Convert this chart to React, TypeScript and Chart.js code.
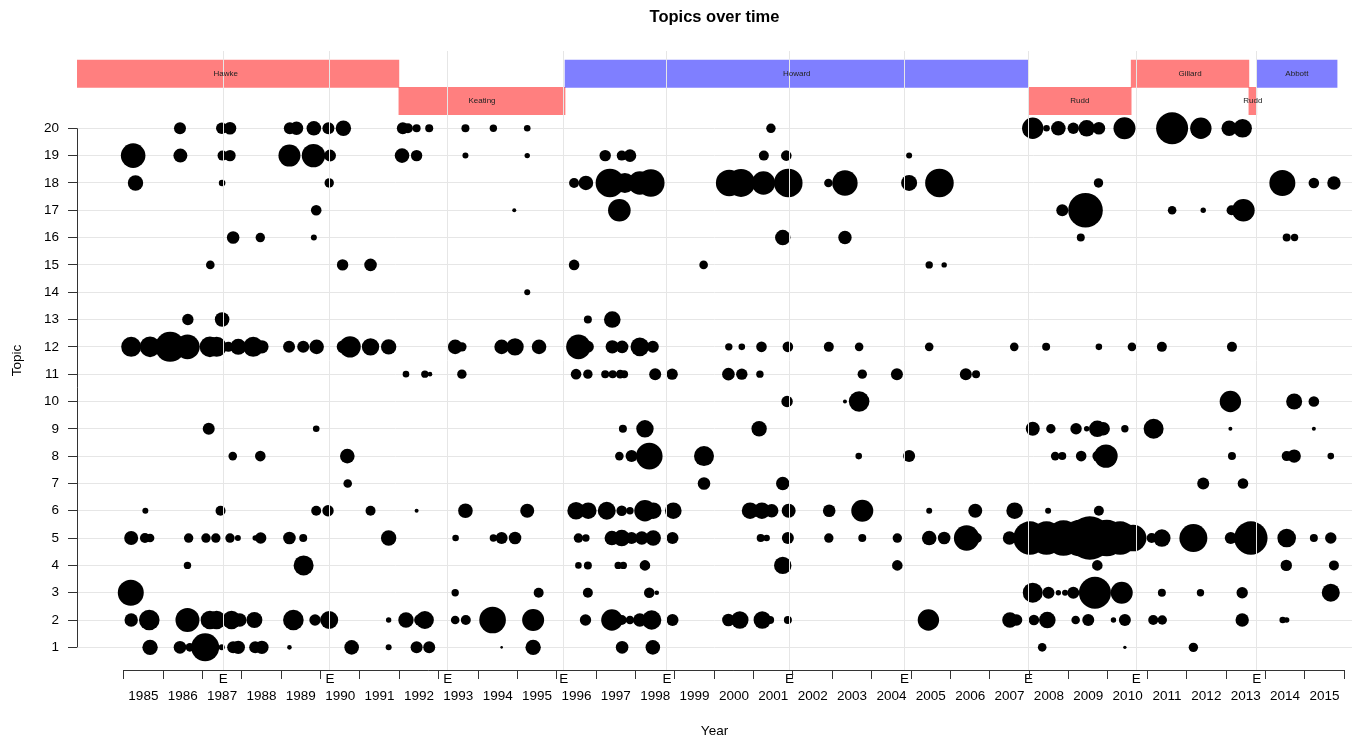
import React, { useEffect, useRef } from 'react';
import { Chart, registerables } from 'chart.js';

Chart.register(...registerables);

const FONT = "'Liberation Sans', Arial, Helvetica, sans-serif";
const TITLE = 'Topics over time';
const X_TITLE = 'Year';
const Y_TITLE = 'Topic';

const X_MIN = 1983.814;
const X_MAX = 2016.199;
const Y_MIN = 0.17;
const Y_MAX = 22.83;

const YEARS = [1985, 1986, 1987, 1988, 1989, 1990, 1991, 1992, 1993, 1994, 1995, 1996, 1997, 1998, 1999, 2000,
  2001, 2002, 2003, 2004, 2005, 2006, 2007, 2008, 2009, 2010, 2011, 2012, 2013, 2014, 2015];
const ELECTIONS = [1987.53, 1990.24, 1993.23, 1996.18, 1998.80, 2001.91, 2004.83, 2007.98, 2010.72, 2013.78];
const TOPICS = [1, 2, 3, 4, 5, 6, 7, 8, 9, 10, 11, 12, 13, 14, 15, 16, 17, 18, 19, 20];

const PM_NAMES = ['Hawke', 'Keating', 'Howard', 'Rudd', 'Gillard', 'Rudd', 'Abbott'];
const PM_START = [1983.19, 1991.99, 1996.21, 2007.98, 2010.59, 2013.58, 2013.78];
const PM_END = [1991.99, 1996.21, 2007.98, 2010.59, 2013.58, 2013.78, 2015.82];
const PM_PARTY = ['Labor', 'Labor', 'Liberal', 'Labor', 'Labor', 'Labor', 'Liberal'];
const PM_ROW = [22, 21, 22, 21, 22, 21, 22];

// [year, weight]
const topic20 = [[1986.43, 6], [1987.49, 5.7], [1987.70, 6.3], [1989.22, 6], [1989.39, 6.7], [1989.83, 7.3], [1990.20, 6], [1990.58, 7.7], [1992.09, 6], [1992.22, 5], [1992.44, 4], [1992.76, 4], [1993.68, 4], [1994.39, 3.7], [1995.25, 3.3], [2001.44, 4.7], [2008.09, 10.7], [2008.44, 3.3], [2008.74, 7.3], [2009.12, 5.7], [2009.46, 8.3], [2009.77, 6.3], [2010.42, 11], [2011.63, 16], [2012.36, 10.7], [2013.08, 7.7], [2013.42, 9.3]];
const topic19 = [[1985.24, 12.3], [1986.44, 7], [1987.51, 5], [1987.70, 5.7], [1989.21, 11], [1989.82, 11.7], [1990.24, 6], [1992.07, 7.3], [1992.44, 5.7], [1993.68, 3], [1995.25, 2.7], [1997.23, 5.7], [1997.65, 5], [1997.86, 6.3], [2001.26, 5], [2001.83, 5.3], [2004.95, 3]];
const topic18 = [[1985.30, 7.7], [1987.50, 3.3], [1990.22, 4.7], [1996.44, 5], [1996.74, 7.3], [1997.35, 14.3], [1997.73, 10], [1998.11, 11.7], [1998.39, 13.7], [2000.38, 13.3], [2000.68, 14], [2001.25, 11.7], [2001.88, 14.3], [2002.90, 4.3], [2003.32, 12.7], [2004.95, 8], [2005.72, 14.3], [2009.76, 4.7], [2014.43, 13], [2015.23, 5.3], [2015.74, 6.7]];
const topic17 = [[1989.89, 5.3], [1994.92, 2], [1997.59, 11.3], [2008.84, 6], [2009.43, 17.3], [2011.63, 4.3], [2012.42, 2.7], [2013.14, 5], [2013.44, 11.3]];
const topic16 = [[1987.78, 6.3], [1988.47, 4.7], [1989.83, 3], [2001.74, 7.7], [2003.32, 6.7], [2009.31, 4], [2014.54, 4], [2014.74, 3.7]];
const topic15 = [[1987.20, 4.3], [1990.56, 5.7], [1991.27, 6.3], [1996.44, 5.3], [1999.73, 4.3], [2005.46, 3.7], [2005.84, 2.7]];
const topic14 = [[1995.25, 3]];
const topic13 = [[1986.63, 5.7], [1987.50, 7.3], [1996.79, 4], [1997.41, 8.3]];
const topic12 = [[1985.19, 10], [1985.67, 10.3], [1986.18, 15], [1986.62, 12.3], [1987.19, 10.3], [1987.36, 10], [1987.66, 5], [1987.91, 8], [1988.29, 10], [1988.51, 6.7], [1989.20, 6], [1989.56, 6], [1989.90, 7.3], [1990.58, 6.7], [1990.75, 10.7], [1991.27, 8.7], [1991.73, 7.7], [1993.42, 7.3], [1993.59, 4.7], [1994.60, 7.3], [1994.94, 8.7], [1995.55, 7.3], [1996.55, 12.3], [1996.79, 6], [1997.41, 6.7], [1997.66, 6.3], [1998.11, 9.3], [1998.44, 6], [2000.37, 3.7], [2000.70, 3.3], [2001.20, 5.3], [2001.87, 5.3], [2002.91, 5], [2003.68, 4.3], [2005.46, 4.3], [2007.62, 4.3], [2008.43, 4], [2009.77, 3.3], [2010.61, 4.3], [2011.37, 5], [2013.15, 5]];
const topic11 = [[1992.17, 3.3], [1992.65, 3.7], [1992.78, 2.3], [1993.59, 4.7], [1996.49, 5.3], [1996.79, 4.7], [1997.23, 4], [1997.42, 4], [1997.61, 4.3], [1997.71, 4], [1998.50, 6], [1998.93, 5.7], [2000.36, 6.3], [2000.70, 5.7], [2001.16, 3.7], [2003.76, 4.7], [2004.64, 6], [2006.39, 6], [2006.65, 4]];
const topic10 = [[2001.85, 5.7], [2003.32, 2], [2003.68, 10.3], [2013.11, 10.7], [2014.73, 8], [2015.23, 5.3]];
const topic9 = [[1987.16, 6], [1989.89, 3.3], [1997.68, 4], [1998.24, 8.7], [2001.14, 7.7], [2008.09, 7], [2008.55, 4.7], [2009.19, 5.7], [2009.46, 2.7], [2009.73, 8.3], [2009.88, 6.7], [2010.43, 3.7], [2011.16, 10], [2013.11, 2], [2015.23, 2]];
const topic8 = [[1987.77, 4.3], [1988.47, 5.3], [1990.68, 7.3], [1997.59, 4.3], [1997.90, 6], [1998.35, 13.3], [1999.74, 10], [2003.67, 3.3], [2004.95, 6], [2008.66, 4.3], [2008.84, 4], [2009.32, 5.3], [2009.75, 5.7], [2009.95, 11.7], [2013.15, 4], [2014.54, 5], [2014.73, 6.7], [2015.66, 3.3]];
const topic7 = [[1990.69, 4.3], [1999.74, 6.3], [2001.74, 6.7], [2012.42, 6], [2013.43, 5.3]];
const topic6 = [[1985.55, 3], [1987.46, 5], [1989.89, 5], [1990.19, 5.7], [1991.27, 5], [1992.44, 2], [1993.68, 7.3], [1995.25, 7], [1996.49, 8.7], [1996.80, 8.3], [1997.27, 9], [1997.65, 5.3], [1997.86, 3.7], [1998.24, 10.7], [1998.45, 8.3], [1998.96, 8.3], [2000.91, 8.3], [2001.21, 8.3], [2001.46, 6.7], [2001.89, 7], [2002.92, 6.3], [2003.76, 11], [2005.46, 3], [2006.63, 7], [2007.63, 8.3], [2008.48, 3], [2009.77, 5]];
const topic5 = [[1985.19, 7], [1985.54, 5], [1985.67, 4.3], [1986.65, 4.7], [1987.09, 4.7], [1987.34, 4.7], [1987.70, 4.7], [1987.90, 3], [1988.34, 2.7], [1988.48, 5.7], [1989.21, 6.3], [1989.56, 4], [1991.73, 7.7], [1993.43, 3.3], [1994.39, 3.7], [1994.60, 6], [1994.94, 6.3], [1996.55, 4.7], [1996.74, 3.7], [1997.40, 7.3], [1997.65, 8.3], [1997.90, 6], [1998.16, 6.7], [1998.45, 7.7], [1998.94, 6], [2001.18, 4], [2001.33, 3.3], [2001.87, 6], [2002.91, 4.7], [2003.76, 4], [2004.65, 4.7], [2005.46, 7.3], [2005.84, 6.3], [2006.41, 12.7], [2006.67, 5], [2007.50, 6.7], [2008.02, 16.7], [2008.44, 16.7], [2008.87, 17.7], [2009.29, 18.3], [2009.54, 21.7], [2009.97, 18.3], [2010.31, 16.7], [2010.64, 13.3], [2011.11, 5], [2011.37, 8.7], [2012.17, 14], [2013.12, 6], [2013.63, 16.7], [2014.54, 9.3], [2015.23, 4], [2015.66, 5.7]];
const topic4 = [[1986.62, 3.7], [1989.57, 10], [1996.55, 3.3], [1996.79, 4], [1997.56, 3.7], [1997.69, 3.7], [1998.24, 5.3], [2001.74, 8.7], [2004.65, 5.3], [2009.73, 5.3], [2014.53, 5.7], [2015.74, 5]];
const topic3 = [[1985.18, 13], [1993.42, 3.7], [1995.54, 5], [1996.79, 5], [1998.35, 5.3], [1998.54, 2.3], [2008.09, 10], [2008.49, 6], [2008.74, 2.7], [2008.91, 3], [2009.12, 6], [2009.67, 16], [2010.35, 11], [2011.37, 4], [2012.35, 3.7], [2013.41, 5.7], [2015.66, 9]];
const topic2 = [[1985.19, 6.7], [1985.65, 10.3], [1986.62, 12], [1987.19, 9.3], [1987.36, 9.3], [1987.74, 9.3], [1987.95, 6.7], [1988.32, 8], [1989.31, 10.3], [1989.86, 5.7], [1990.22, 9], [1991.73, 2.7], [1992.17, 7.7], [1992.53, 6], [1992.65, 9], [1993.42, 4.3], [1993.69, 5], [1994.37, 13.3], [1995.40, 11], [1996.73, 5.7], [1997.40, 10.7], [1997.65, 5], [1997.86, 4.3], [1998.11, 6.7], [1998.41, 9.7], [1998.94, 6], [2000.36, 6.3], [2000.65, 8.7], [2001.22, 8.7], [2001.42, 4], [2001.87, 4], [2005.44, 10.7], [2007.51, 7.7], [2007.68, 5.7], [2008.12, 5.3], [2008.46, 8.3], [2009.18, 4.3], [2009.50, 6], [2010.14, 2.7], [2010.43, 6], [2011.15, 5], [2011.38, 4.7], [2013.41, 6.7], [2014.44, 3.3], [2014.54, 2.7]];
const topic1 = [[1985.67, 7.7], [1986.43, 6.3], [1986.68, 4.3], [1987.07, 14], [1987.49, 3], [1987.78, 6], [1987.91, 6.7], [1988.34, 6], [1988.51, 6.7], [1989.21, 2.3], [1990.79, 7.3], [1991.73, 3], [1992.44, 6], [1992.76, 6], [1994.60, 1.3], [1995.40, 7.7], [1997.66, 6.3], [1998.44, 7.3], [2008.33, 4.3], [2010.43, 1.7], [2012.17, 4.7]];

const TOPIC_DATA = [topic1, topic2, topic3, topic4, topic5, topic6, topic7, topic8, topic9, topic10,
  topic11, topic12, topic13, topic14, topic15, topic16, topic17, topic18, topic19, topic20];

const PARTY_COLOR: Record<string, string> = {
  Labor: 'rgba(255, 0, 0, 0.5)',
  Liberal: 'rgba(0, 0, 255, 0.5)',
};
const GRID = '#e6e6e6';
const AXIS = '#333333';
const CLEAR = 'rgba(0,0,0,0)';

const isElection = (v: number) => ELECTIONS.some((e) => Math.abs(e - v) < 1e-9);
const isYearEdge = (v: number) => !isElection(v) && Math.abs(v - Math.round(v)) < 1e-9;

const overlayPlugin = {
  id: 'overlay',
  afterDraw(chart: any) {
    const { ctx, chartArea, scales } = chart;
    const x = scales.x;
    const y = scales.y;
    ctx.save();
    ctx.strokeStyle = AXIS;
    ctx.lineWidth = 1;
    ctx.beginPath();
    const lx = Math.round(chartArea.left) + 0.5;
    ctx.moveTo(lx, y.getPixelForValue(TOPICS[0]));
    ctx.lineTo(lx, y.getPixelForValue(TOPICS[TOPICS.length - 1]));
    const by = Math.round(chartArea.bottom) + 0.5;
    ctx.moveTo(x.getPixelForValue(YEARS[0]), by);
    ctx.lineTo(x.getPixelForValue(YEARS[YEARS.length - 1] + 1), by);
    ctx.stroke();

    ctx.fillStyle = '#222';
    ctx.font = `8px ${FONT}`;
    ctx.textAlign = 'center';
    ctx.textBaseline = 'middle';
    PM_NAMES.forEach((name, i) => {
      const cx = x.getPixelForValue((PM_START[i] + PM_END[i]) / 2);
      const cy = y.getPixelForValue(PM_ROW[i]);
      ctx.fillText(name, cx, cy);
    });
    ctx.restore();
  },
};

export default function App() {
  const ref = useRef<HTMLCanvasElement | null>(null);

  useEffect(() => {
    if (!ref.current) return;
    Chart.defaults.font.family = FONT;

    const bubbles: { x: number; y: number; r: number }[] = [];
    TOPIC_DATA.forEach((rows, i) => {
      rows.forEach(([year, w]) => bubbles.push({ x: year, y: TOPICS[i], r: w }));
    });

    const bars = PM_NAMES.map((_, i) => ({ x: [PM_START[i], PM_END[i]], y: PM_ROW[i] }));

    const xTicks: number[] = [];
    YEARS.forEach((yr) => {
      xTicks.push(yr);
      xTicks.push(yr + 0.5);
    });
    xTicks.push(YEARS[YEARS.length - 1] + 1);
    ELECTIONS.forEach((e) => xTicks.push(e));
    xTicks.sort((a, b) => a - b);

    const chart = new Chart(ref.current, {
      type: 'bubble',
      data: {
        datasets: [
          {
            type: 'bar',
            label: 'Prime Minister',
            indexAxis: 'y',
            data: bars as any,
            backgroundColor: PM_PARTY.map((p) => PARTY_COLOR[p]),
            borderWidth: 0,
            categoryPercentage: 1,
            barPercentage: 1,
            grouped: false,
          } as any,
          {
            type: 'bubble',
            label: 'Topics',
            data: bubbles,
            backgroundColor: '#000',
            borderWidth: 0,
            hoverBorderWidth: 0,
          } as any,
        ],
      },
      options: {
        animation: false,
        responsive: true,
        maintainAspectRatio: false,
        events: [],
        layout: { autoPadding: false, padding: { left: 0, right: 5, top: 0, bottom: 0 } },
        plugins: {
          legend: { display: false },
          tooltip: { enabled: false },
          title: {
            display: true,
            text: TITLE,
            fullSize: false,
            color: '#000',
            font: { family: FONT, size: 16.5, weight: 'bold', lineHeight: 1.2 },
            padding: { top: 8, bottom: 23.2 },
          },
        },
        scales: {
          x: {
            type: 'linear',
            position: 'bottom',
            min: X_MIN,
            max: X_MAX,
            offset: false,
            afterBuildTicks: (scale: any) => {
              scale.ticks = xTicks.map((v) => ({ value: v }));
            },
            afterFit: (scale: any) => {
              scale.height = 70;
              scale.paddingLeft = 0;
              scale.paddingRight = 0;
            },
            grid: {
              z: 1,
              offset: false,
              lineWidth: 1,
              tickWidth: 1,
              tickLength: 9,
              color: (c: any) => (c.tick && isElection(c.tick.value) ? GRID : CLEAR),
              tickColor: (c: any) => (c.tick && isYearEdge(c.tick.value) ? AXIS : CLEAR),
            },
            border: { display: false },
            ticks: {
              autoSkip: false,
              maxRotation: 0,
              minRotation: 0,
              padding: -9,
              color: '#000',
              font: { family: FONT, size: 13.5, lineHeight: 1.31 },
              callback: (value: any) => {
                const v = Number(value);
                if (isElection(v)) return 'E';
                if (isYearEdge(v)) return '';
                return ['', String(Math.floor(v))];
              },
            },
            title: {
              display: true,
              text: X_TITLE,
              color: '#000',
              font: { family: FONT, size: 13.5, lineHeight: 1.2 },
              padding: { top: 0, bottom: 1 },
            },
          },
          y: {
            type: 'linear',
            position: 'left',
            min: Y_MIN,
            max: Y_MAX,
            offset: false,
            afterBuildTicks: (scale: any) => {
              scale.ticks = TOPICS.map((v) => ({ value: v }));
            },
            afterFit: (scale: any) => {
              scale.width = 77;
              scale.paddingTop = 0;
              scale.paddingBottom = 0;
            },
            grid: {
              offset: false,
              color: GRID,
              lineWidth: 1,
              tickLength: 9,
              tickColor: AXIS,
            },
            border: { display: false },
            ticks: {
              autoSkip: false,
              padding: 9,
              color: '#000',
              font: { family: FONT, size: 13.5 },
              callback: (value: any) => String(value),
            },
            title: {
              display: true,
              text: Y_TITLE,
              color: '#000',
              font: { family: FONT, size: 13.5, lineHeight: 1.2 },
              padding: { top: 9, bottom: 0 },
            },
          },
        },
      },
      plugins: [overlayPlugin],
    } as any);

    return () => chart.destroy();
  }, []);

  return (
    <div style={{ position: 'fixed', left: 0, top: 0, width: '1357px', height: '740px', background: '#fff' }}>
      <canvas ref={ref} />
    </div>
  );
}
